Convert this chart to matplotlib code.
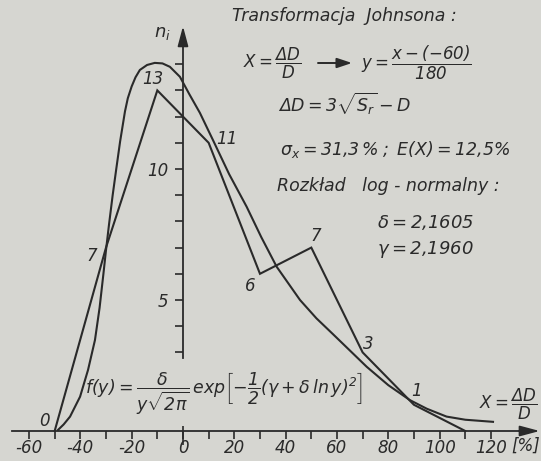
import matplotlib
matplotlib.use("Agg")
import matplotlib.pyplot as plt

# --- data -------------------------------------------------------------
# class midpoints of X = dD/D [%] and observed counts n_i (frequency polygon)
class_mid = [-50, -30, -10, 10, 30, 50, 70, 90, 110]
counts = [0, 7, 13, 11, 6, 7, 3, 1, 0]

# fitted log-normal (Johnson) density, scaled to counts
fit_x = [-48.7, -46.5, -44.0, -40.1, -37.0, -34.3, -32.5, -31.0, -30.0, -28.8,
         -27.4, -26.0, -24.5, -22.6, -21.5, -20.0, -18.5, -16.8, -14.0, -11.0, -8.0,
         -5.1, -1.2, 2.5, 6.6, 11.7, 18.0, 24.8, 30.5, 36.5, 45.6, 52.0, 58.4,
         71.6, 80.0, 88.4, 95.0, 102.7, 110.0, 120.8]
fit_n = [0.04, 0.25, 0.55, 1.31, 2.33, 3.47, 4.70, 6.00, 6.90, 7.90,
         9.00, 10.00, 11.05, 12.20, 12.70, 13.15, 13.50, 13.78, 13.97, 14.05, 14.03,
         13.90, 13.52, 12.85, 12.14, 11.10, 9.80, 8.56, 7.40, 6.27, 5.00, 4.30, 3.70,
         2.45, 1.75, 1.18, 0.85, 0.55, 0.43, 0.35]

x_major = [-60, -40, -20, 0, 20, 40, 60, 80, 100, 120]
x_minor = [-50, -30, -10, 10, 30, 50, 70, 90, 110]
y_major = [5, 10]
y_minor = [3, 4, 6, 7, 8, 9, 11, 12, 13, 14]

# label offsets (points) for the polygon counts
label_offsets = [(-7, 7), (-10, -6), (-3, 8), (13, 3), (-7, -9), (3, 8), (4, 6), (2, 10), None]

# --- style --------------------------------------------------------------
INK = "#2a2a2a"
PAPER = "#d6d6d1"
plt.rcParams.update({
    "font.family": "DejaVu Sans",
    "font.style": "italic",
    "mathtext.fontset": "custom",
    "mathtext.rm": "DejaVu Sans:italic",
    "mathtext.it": "DejaVu Sans:italic",
    "mathtext.sf": "DejaVu Sans:italic",
    "mathtext.bf": "DejaVu Sans:italic",
    "axes.unicode_minus": False,
    "text.color": INK,
})

W, H = 541, 461
fig = plt.figure(figsize=(W / 100, H / 100), dpi=100, facecolor=PAPER)
ax = fig.add_axes([0, 0, 1, 1], facecolor=PAPER)
ax.set_xlim(-71.3, 139.5)
ax.set_ylim(-1.145, 16.45)


def px(x, y):
    """figure-pixel position -> figure fraction"""
    return x / W, 1 - y / H


# axes through the origin
for s in ("top", "right"):
    ax.spines[s].set_visible(False)
ax.spines["bottom"].set_position(("data", 0))
ax.spines["left"].set_position(("data", 0))
ax.spines["bottom"].set_bounds(-66.5, 132)
ax.spines["left"].set_bounds(2.8, 14.8)
for s in ("bottom", "left"):
    ax.spines[s].set_color(INK)
    ax.spines[s].set_linewidth(1.3)

arrow_kw = dict(arrowstyle="-|>,head_length=0.6,head_width=0.16", color=INK,
                lw=1.3, mutation_scale=20, shrinkA=0, shrinkB=0)
ax.annotate("", xy=(139.0, 0), xytext=(131, 0), arrowprops=arrow_kw)
ax.annotate("", xy=(0, 15.45), xytext=(0, 14.7), arrowprops=arrow_kw)

ax.set_xticks(x_major)
ax.set_xticks(x_minor, minor=True)
ax.set_xticklabels([str(v) for v in x_major])
ax.set_yticks(y_major)
ax.set_yticks(y_minor, minor=True)
ax.set_yticklabels([str(v) for v in y_major])
ax.tick_params(axis="x", which="both", direction="out", length=6, width=1.2,
               color=INK, labelsize=12, pad=0, labelcolor=INK)
ax.tick_params(axis="y", which="both", direction="out", length=5.5, width=1.2,
               color=INK, labelsize=12, pad=5, labelcolor=INK)
# the origin tick crosses the axis
ax.plot([0, 0], [0.2, -0.55], color=INK, lw=1.2, solid_capstyle="butt")

# frequency polygon and fitted curve
ax.plot(class_mid, counts, color=INK, lw=1.5, solid_joinstyle="miter")
ax.plot(fit_x, fit_n, color=INK, lw=1.5)

for xm, n, off in zip(class_mid, counts, label_offsets):
    if off is None:
        continue
    ax.annotate(str(n), (xm, n), xytext=off, textcoords="offset points",
                ha="center", va="center", fontsize=12, color=INK)

# axis captions
fig.text(*px(162, 33), r"$n_i$", fontsize=13, ha="center", va="center")
fig.text(*px(540, 446), "[%]", fontsize=12, ha="right", va="center")

# annotations
fig.text(*px(232, 16), "Transformacja  Johnsona :", fontsize=12.5, ha="left", va="center")
fig.text(*px(243, 63), r"$X=\dfrac{\Delta D}{D}$", fontsize=12, ha="left", va="center")
ax.annotate("", xy=px(352, 63), xytext=px(318, 63), xycoords="figure fraction",
            textcoords="figure fraction",
            arrowprops=dict(arrowstyle="-|>,head_length=0.6,head_width=0.2", color=INK,
                            lw=1.4, mutation_scale=15, shrinkA=0, shrinkB=0))
fig.text(*px(361, 63), r"$y=\dfrac{x-(-60)}{180}$", fontsize=12, ha="left", va="center")
fig.text(*px(278, 104), r"$\Delta D=3\sqrt{S_r}-D$", fontsize=12.5, ha="left", va="center")
fig.text(*px(280, 149), r"$\sigma_x=31{,}3\,\%\;;\;E(X)=12{,}5\%$", fontsize=12.5,
         ha="left", va="center")
fig.text(*px(277, 186), "Rozkład   log - normalny :", fontsize=12.5, ha="left", va="center")
fig.text(*px(377, 222), r"$\delta=2{,}1605$", fontsize=13, ha="left", va="center")
fig.text(*px(377, 249), r"$\gamma=2{,}1960$", fontsize=13, ha="left", va="center")
fig.text(*px(85, 394),
         r"$f(y)=\dfrac{\delta}{y\sqrt{2\pi}}\,exp\left[-\dfrac{1}{2}(\gamma+\delta\,ln\,y)^2\right]$",
         fontsize=12.5, ha="left", va="center")
fig.text(*px(538, 404), r"$X=\dfrac{\Delta D}{D}$", fontsize=12, ha="right", va="center")

fig.savefig("out.png", dpi=100, facecolor=PAPER)
